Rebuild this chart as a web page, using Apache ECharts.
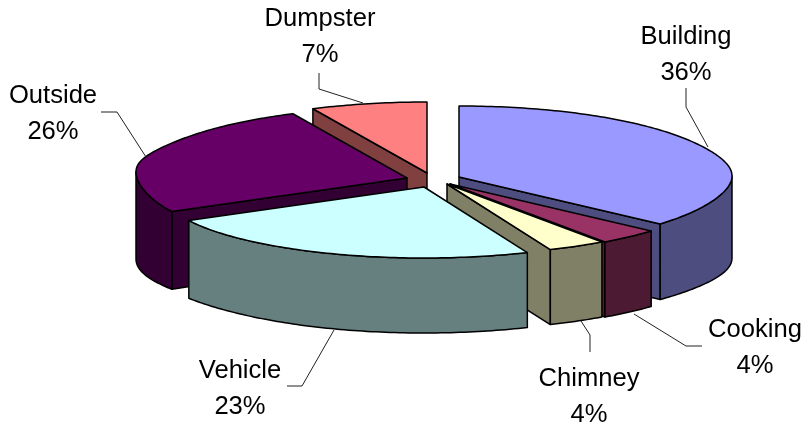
<!DOCTYPE html>
<html>
<head>
<meta charset="utf-8">
<style>html,body{margin:0;padding:0;background:#fff}#c{width:803px;height:425px}</style>
<script src="https://cdn.jsdelivr.net/npm/echarts@6/dist/echarts.min.js"></script>
</head>
<body>
<div id="c"></div>
<script>
// Data: clockwise from 12 o'clock
var categories = ['Building','Cooking','Chimney','Vehicle','Outside','Dumpster'];
var values = [36.49, 3.7, 3.51, 23.3, 26, 7];

// Styling and layout
var topColors = ['#9999FF','#993366','#FFFFCC','#CCFFFF','#660066','#FF8080'];
var sideColors = ['#4D4D80','#4D1A33','#808066','#668080','#330033','#804040'];
var apexes = [[459,177],[450,184],[447,184],[424,187],[407,178],[427,173]];
var drawOrder = [5,4,0,1,2,3];
var labelCenters = [[686,55],[755,348],[589,397],[240,389],[53,114],[320,37]];
var leaders = [
  [[686,88],[686,107],[708,147]],
  [[702,346],[686,346],[634,314]],
  [[590,352],[590,335],[581,321]],
  [[287,386],[302,386],[334,330]],
  [[101,112],[117,112],[146,157]],
  [[319,73],[319,89],[363,103]]
];
var RX_BASE = 268, RX_LEFT_EXTRA = 3, RX_RIGHT_EXTRA = 5, RY = 71, DEPTH = 75;

var total = values.reduce(function(a,b){return a+b;},0);
var bounds = [], acc = 0;
values.forEach(function(v){ var s = acc/total*360; acc += v; bounds.push([s, acc/total*360]); });

function rim(i, deg, bottom){
  var t = deg*Math.PI/180, a = apexes[i], sn = Math.sin(t), cs = Math.cos(t);
  var s8 = Math.pow(sn,8), s16 = s8*s8;
  var rx = RX_BASE + s16*(sn >= 0 ? RX_RIGHT_EXTRA : RX_LEFT_EXTRA);
  var shift = bottom ? s8*6 : -s16*(sn < 0 ? 6 : 1);
  return [a[0] + rx*sn, a[1] - RY*cs + shift + (bottom ? DEPTH : 0)];
}
function arc(i, from, to, bottom){
  var pts = [], n = Math.max(2, Math.ceil(Math.abs(to-from)));
  for (var k = 0; k <= n; k++) pts.push(rim(i, from+(to-from)*k/n, bottom));
  return pts;
}
function poly(points, fill, z){
  return {type:'polygon', z2:z, shape:{points:points},
    style:{fill:fill, stroke:'#000', lineWidth:1.5, lineJoin:'round'}};
}
function renderSlice(params){
  var i = params.dataIndex, b = bounds[i], a = apexes[i], kids = [];
  var side = sideColors[i], aB = [a[0], a[1]+DEPTH];
  function wall(deg){
    kids.push(poly([a, rim(i,deg,false), rim(i,deg,true), aB], side, 1));
  }
  var sStart = Math.sin(b[0]*Math.PI/180), sEnd = Math.sin(b[1]*Math.PI/180);
  if (sStart < -1e-6) wall(b[0]);
  if (sEnd > 1e-6) wall(b[1]);
  var lo = Math.max(b[0],90), hi = Math.min(b[1],270);
  if (hi > lo) kids.push(poly(arc(i,lo,hi,false).concat(arc(i,hi,lo,true)), side, 2));
  kids.push(poly([a].concat(arc(i,b[0],b[1],false)), topColors[i], 3));
  return {type:'group', children:kids};
}

var chart = echarts.init(document.getElementById('c'), null, {renderer:'canvas'});
chart.setOption({
  animation:false,
  backgroundColor:'#fff',
  series:[
    {type:'custom', coordinateSystem:'none', silent:true, z:2, clip:false,
     renderItem:function(p){ return renderSlice({dataIndex:drawOrder[p.dataIndex]}); },
     data:drawOrder.map(function(i){ return {name:categories[i], value:values[i]}; })},
    {type:'custom', coordinateSystem:'none', silent:true, z:3, clip:false,
     renderItem:function(p){
       var i = p.dataIndex;
       return {type:'group', children:[
         {type:'polyline', shape:{points:leaders[i]}, style:{fill:null, stroke:'#222', lineWidth:1}},
         {type:'text', x:labelCenters[i][0], y:labelCenters[i][1],
          style:{text:categories[i]+'\n'+Math.round(values[i])+'%', align:'center', verticalAlign:'middle',
                 font:'25.6px "Liberation Sans", Arial, sans-serif', lineHeight:36, fill:'#000'}}
       ]};
     },
     data:categories.map(function(c,i){ return {name:c, value:values[i]}; })}
  ]
});
</script>
</body>
</html>
